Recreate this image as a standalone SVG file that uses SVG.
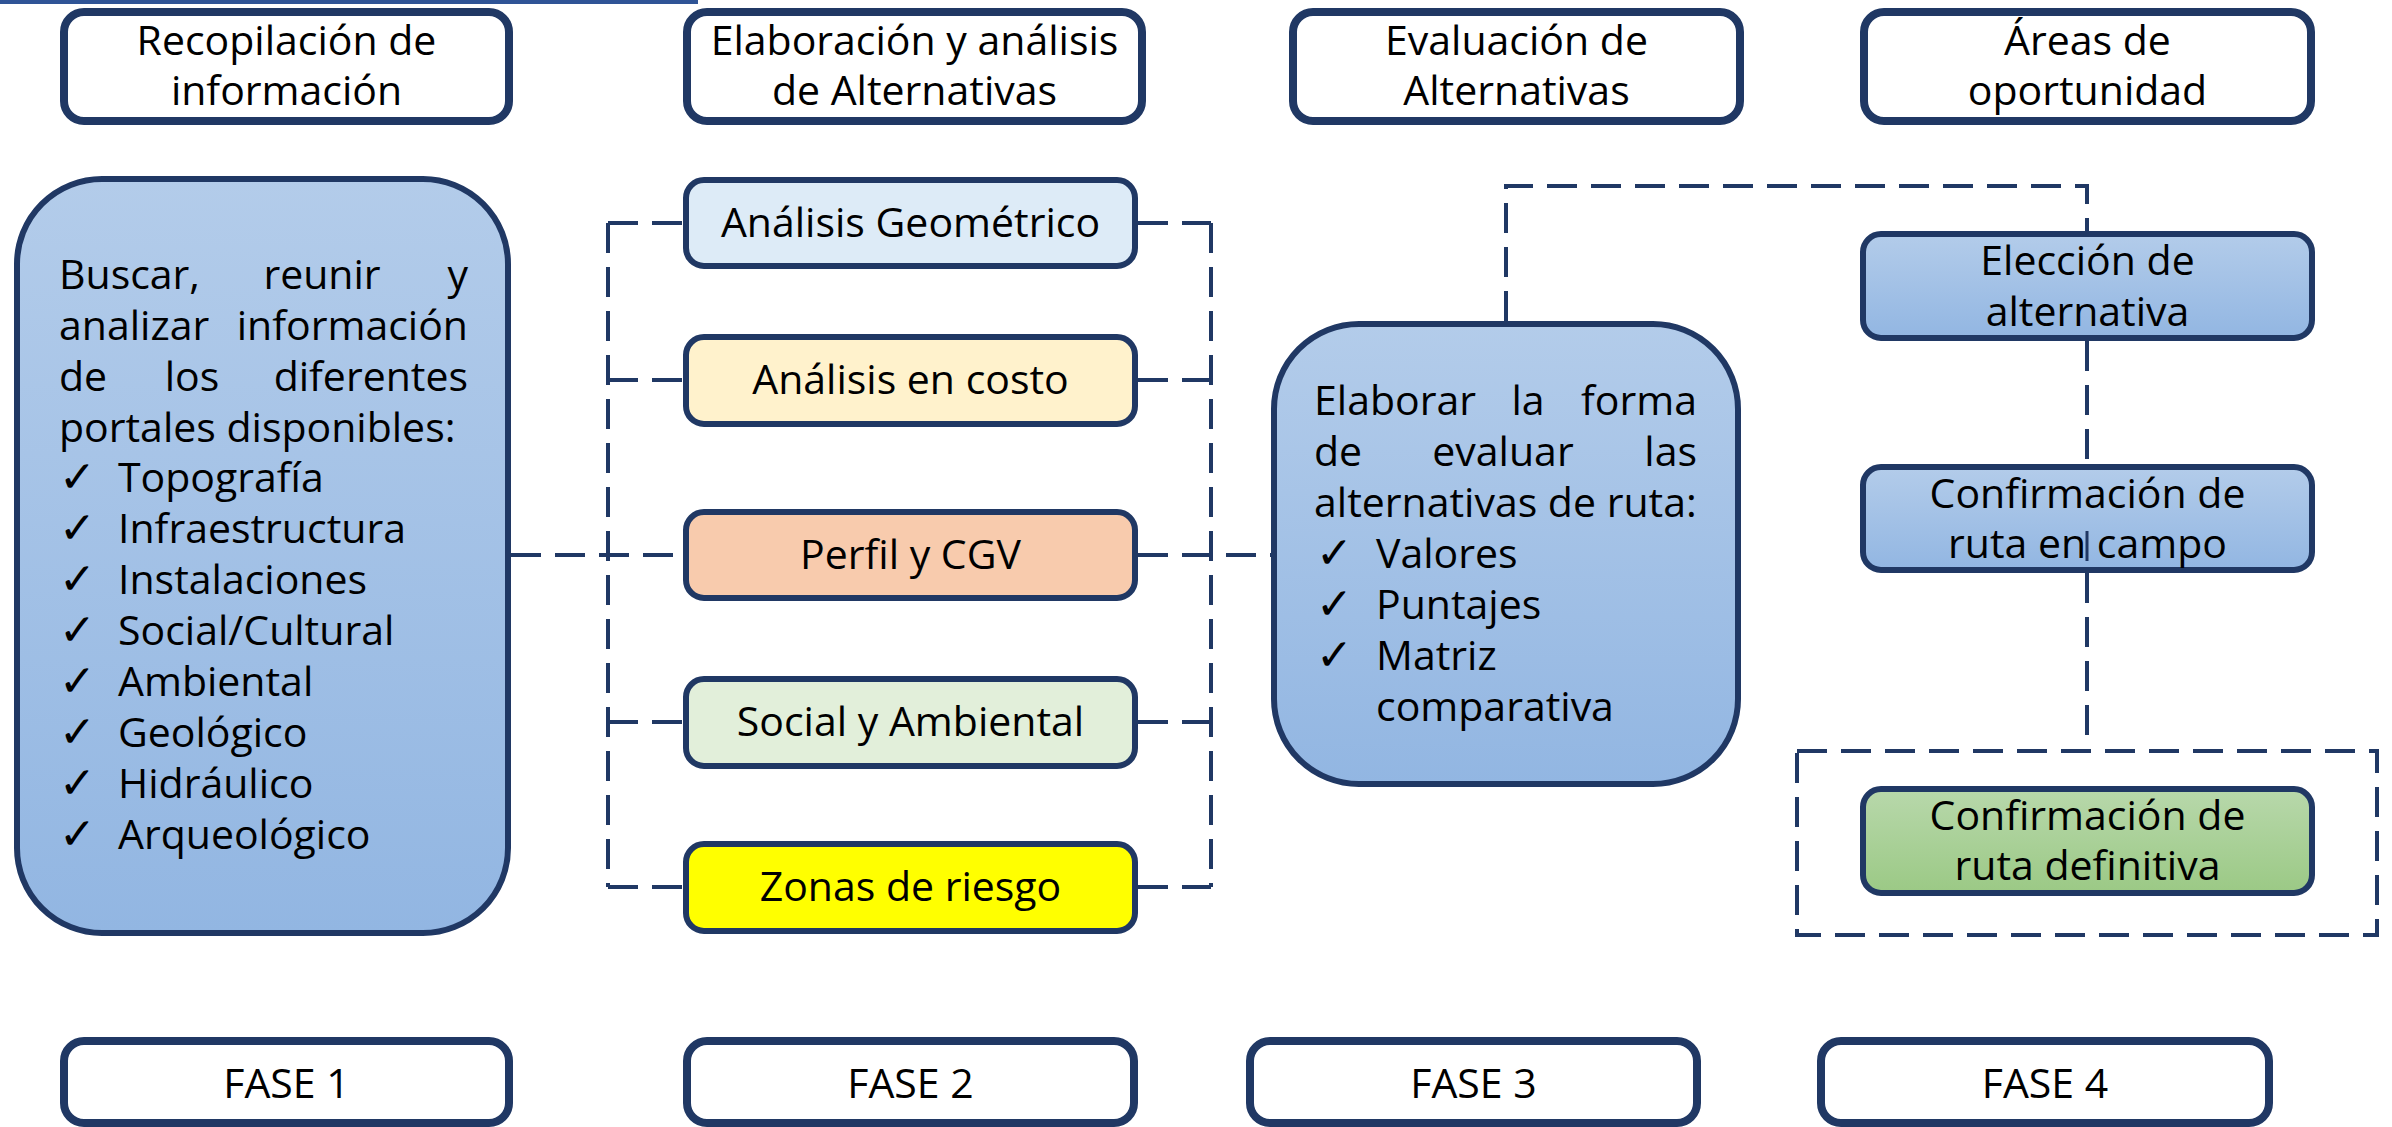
<svg xmlns="http://www.w3.org/2000/svg" width="2392" height="1127" viewBox="0 0 2392 1127">
<defs>
<linearGradient id="gBlue" x1="0" y1="0" x2="0" y2="1">
<stop offset="0" stop-color="#B3CCEA"/>
<stop offset="1" stop-color="#92B6E2"/>
</linearGradient>
<linearGradient id="gGreen" x1="0" y1="0" x2="0" y2="1">
<stop offset="0" stop-color="#B8D8AB"/>
<stop offset="1" stop-color="#9BC985"/>
</linearGradient>
<style>
text{font-family:"Open Sans","Liberation Sans",sans-serif;font-size:41px;fill:#000;}
.c{text-anchor:middle;}
.e{text-anchor:end;}
.chk{font-family:"DejaVu Sans",sans-serif;font-size:44px;}
.hdr{fill:#fff;stroke:#203864;stroke-width:8;}
.nd{stroke:#203864;stroke-width:6;}
.dash{fill:none;stroke:#203864;stroke-width:4;stroke-dasharray:30 14;}
</style>
</defs>
<rect x="0" y="0" width="698" height="4" fill="#2F5496"/>

<g id="connectors">
<path class="dash" d="M608 223 V887"/>
<path class="dash" d="M608 223 H683 M608 380 H683 M608 722 H683 M608 887 H683"/>
<path class="dash" d="M1211 223 V887"/>
<path class="dash" d="M1138 223 H1211 M1138 380 H1211 M1138 722 H1211 M1138 887 H1211"/>
<path class="dash" d="M511 555 H683"/>
<path class="dash" d="M1138 555 H1271"/>
<path class="dash" d="M1506 321 V186 H2087 V231"/>
<path class="dash" d="M2087 341 V464"/>
<path class="dash" d="M2087 573 V750"/>
<rect class="dash" x="1797" y="751" width="580" height="184"/>
</g>

<g id="h1"><rect class="hdr" x="64" y="12" width="445" height="109" rx="20"/>
<text class="c" x="286.5" y="55">Recopilación de</text><text class="c" x="286.5" y="105">información</text></g>
<g id="h2"><rect class="hdr" x="687" y="12" width="455" height="109" rx="20"/>
<text class="c" x="914.5" y="55">Elaboración y análisis</text><text class="c" x="914.5" y="105">de Alternativas</text></g>
<g id="h3"><rect class="hdr" x="1293" y="12" width="447" height="109" rx="20"/>
<text class="c" x="1516.5" y="55">Evaluación de</text><text class="c" x="1516.5" y="105">Alternativas</text></g>
<g id="h4"><rect class="hdr" x="1864" y="12" width="447" height="109" rx="20"/>
<text class="c" x="2087.5" y="55">Áreas de</text><text class="c" x="2087.5" y="105">oportunidad</text></g>

<g id="recopilar">
<rect class="nd" x="17" y="179" width="491" height="754" rx="85" fill="url(#gBlue)"/>
<text x="59" y="289">Buscar,</text><text class="c" x="322" y="289">reunir</text><text class="e" x="468" y="289">y</text>
<text x="59" y="340">analizar</text><text class="e" x="468" y="340">información</text>
<text x="59" y="391">de</text><text class="c" x="192" y="391">los</text><text class="e" x="468" y="391">diferentes</text>
<text x="59" y="442">portales disponibles:</text>
<text class="chk" x="59" y="492">✓</text><text x="118" y="492">Topografía</text>
<text class="chk" x="59" y="543">✓</text><text x="118" y="543">Infraestructura</text>
<text class="chk" x="59" y="594">✓</text><text x="118" y="594">Instalaciones</text>
<text class="chk" x="59" y="645">✓</text><text x="118" y="645">Social/Cultural</text>
<text class="chk" x="59" y="696">✓</text><text x="118" y="696">Ambiental</text>
<text class="chk" x="59" y="747">✓</text><text x="118" y="747">Geológico</text>
<text class="chk" x="59" y="798">✓</text><text x="118" y="798">Hidráulico</text>
<text class="chk" x="59" y="849">✓</text><text x="118" y="849">Arqueológico</text>
</g>

<g id="geom"><rect class="nd" x="686" y="180" width="449" height="86" rx="18" fill="#DDEBF7"/>
<text class="c" x="910.5" y="237">Análisis Geométrico</text></g>
<g id="costo"><rect class="nd" x="686" y="337" width="449" height="87" rx="18" fill="#FFF2CC"/>
<text class="c" x="910.5" y="394">Análisis en costo</text></g>
<g id="perfil"><rect class="nd" x="686" y="512" width="449" height="86" rx="18" fill="#F8CBAD"/>
<text class="c" x="910.5" y="569">Perfil y CGV</text></g>
<g id="social"><rect class="nd" x="686" y="679" width="449" height="87" rx="18" fill="#E2EFDA"/>
<text class="c" x="910.5" y="736">Social y Ambiental</text></g>
<g id="zonas"><rect class="nd" x="686" y="844" width="449" height="87" rx="18" fill="#FFFF00"/>
<text class="c" x="910.5" y="901">Zonas de riesgo</text></g>

<g id="elaborar">
<rect class="nd" x="1274" y="324" width="464" height="460" rx="85" fill="url(#gBlue)"/>
<text x="1314" y="415">Elaborar</text><text class="c" x="1528" y="415">la</text><text class="e" x="1697" y="415">forma</text>
<text x="1314" y="466">de</text><text class="c" x="1503" y="466">evaluar</text><text class="e" x="1697" y="466">las</text>
<text x="1314" y="517">alternativas de ruta:</text>
<text class="chk" x="1316" y="568">✓</text><text x="1376" y="568">Valores</text>
<text class="chk" x="1316" y="619">✓</text><text x="1376" y="619">Puntajes</text>
<text class="chk" x="1316" y="670">✓</text><text x="1376" y="670">Matriz</text>
<text x="1376" y="721">comparativa</text>
</g>

<g id="eleccion"><rect class="nd" x="1863" y="234" width="449" height="104" rx="18" fill="url(#gBlue)"/>
<text class="c" x="2087.5" y="275">Elección de</text><text class="c" x="2087.5" y="326">alternativa</text></g>
<g id="campo"><rect class="nd" x="1863" y="467" width="449" height="103" rx="18" fill="url(#gBlue)"/>
<text class="c" x="2087.5" y="508">Confirmación de</text><text class="c" x="2087.5" y="558">ruta en campo</text>
<line x1="2087" y1="531" x2="2087" y2="561" stroke="#203864" stroke-width="3"/></g>
<g id="definitiva"><rect class="nd" x="1863" y="789" width="449" height="104" rx="18" fill="url(#gGreen)"/>
<text class="c" x="2087.5" y="830">Confirmación de</text><text class="c" x="2087.5" y="880">ruta definitiva</text></g>

<g id="fase1"><rect class="hdr" x="64" y="1041" width="445" height="82" rx="20"/><text class="c" x="286.5" y="1098">FASE 1</text></g>
<g id="fase2"><rect class="hdr" x="687" y="1041" width="447" height="82" rx="20"/><text class="c" x="910.5" y="1098">FASE 2</text></g>
<g id="fase3"><rect class="hdr" x="1250" y="1041" width="447" height="82" rx="20"/><text class="c" x="1473.5" y="1098">FASE 3</text></g>
<g id="fase4"><rect class="hdr" x="1821" y="1041" width="448" height="82" rx="20"/><text class="c" x="2045" y="1098">FASE 4</text></g>
</svg>
